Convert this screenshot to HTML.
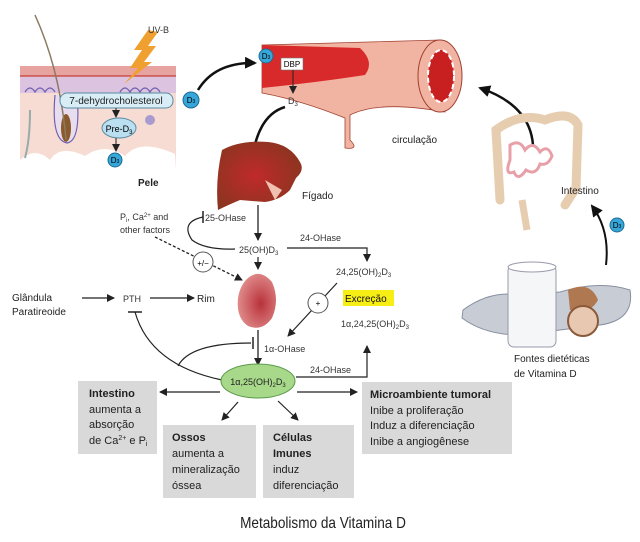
<!DOCTYPE html>
<html><head><meta charset="utf-8"><style>
html,body{margin:0;padding:0;background:#fff;}
svg{display:block;font-family:"Liberation Sans","DejaVu Sans",sans-serif;}
</style></head><body>
<svg width="640" height="542" viewBox="0 0 640 542" xmlns="http://www.w3.org/2000/svg">
<defs>
<marker id="a" markerWidth="8" markerHeight="8" refX="7" refY="4" orient="auto" markerUnits="userSpaceOnUse"><path d="M0,0 L8,4 L0,8 z" fill="#222"/></marker>
<marker id="ab" markerWidth="12" markerHeight="12" refX="10" refY="6" orient="auto" markerUnits="userSpaceOnUse"><path d="M0,0 L12,6 L0,12 z" fill="#111"/></marker>
<radialGradient id="liv" cx="0.45" cy="0.5" r="0.6"><stop offset="0" stop-color="#c02a2a"/><stop offset="1" stop-color="#8a3520"/></radialGradient>
<radialGradient id="kid" cx="0.6" cy="0.55" r="0.6"><stop offset="0" stop-color="#b8323a"/><stop offset="1" stop-color="#e08b8b"/></radialGradient>
</defs>

<!-- Skin -->
<rect x="20" y="66" width="156" height="104" fill="#f6dcd3"/>
<rect x="20" y="66" width="156" height="10" fill="#e6a3a0"/>
<line x1="20" y1="76" x2="176" y2="76" stroke="#c94c4c" stroke-width="1.5"/>
<rect x="20" y="77" width="156" height="16" fill="#dcc3df"/>
<path d="M20,160 q15,-14 30,0 q10,-16 35,-4 q20,-14 40,0 q15,-18 50,-2 L176,170 L20,170z" fill="#fff"/>
<path d="M25,92 q5,-8 10,0 q5,-8 10,0 q5,-8 10,0" fill="none" stroke="#7060b0" stroke-width="1.2"/>
<path d="M120,92 q5,-8 10,0 q5,-8 10,0 q5,-8 10,0 q5,-8 10,0" fill="none" stroke="#7060b0" stroke-width="1.2"/>
<path d="M55,95 q-4,45 12,48 q14,-2 10,-48" fill="#e8dcef" stroke="#7060b0" stroke-width="1.2"/>
<ellipse cx="66" cy="128" rx="5" ry="14" fill="#8a5a2a"/>
<path d="M35,15 Q60,70 66,140" fill="none" stroke="#8a7a60" stroke-width="1.5"/>
<path d="M30,110 q0,30 -5,48" fill="none" stroke="#9aa" stroke-width="2"/>
<circle cx="150" cy="120" r="5" fill="#a99bd0"/>
<path d="M148,30 l-14,20 8,0 -12,18 8,0 -14,16 28,-22 -8,0 12,-16 -8,0 10,-14z" fill="#f0a030"/>
<text x="148" y="33" font-size="9" fill="#333">UV-B</text>
<rect x="60" y="93" width="113" height="15" rx="7" fill="#d8edf6" stroke="#5a8aa0"/>
<text x="116" y="104" font-size="10" text-anchor="middle" fill="#222">7-dehydrocholesterol</text>
<line x1="116" y1="108" x2="116" y2="117" stroke="#222" marker-end="url(#a)"/>
<ellipse cx="119" cy="128" rx="17" ry="10" fill="#b9dff0" stroke="#5a8aa0"/>
<text x="119" y="132" font-size="9" text-anchor="middle">Pre-D<tspan font-size="6" dy="2">3</tspan></text>
<line x1="116" y1="138" x2="116" y2="151" stroke="#222" marker-end="url(#a)"/>
<circle cx="115" cy="160" r="7" fill="#37a6d8" stroke="#1c6c95"/>
<text x="115" y="163" font-size="8" text-anchor="middle">D<tspan font-size="5">3</tspan></text>
<text x="138" y="186" font-size="10" font-weight="bold" fill="#222">Pele</text>

<circle cx="191" cy="100" r="8" fill="#37a6d8" stroke="#1c6c95"/>
<text x="191" y="103" font-size="8" text-anchor="middle">D<tspan font-size="5">3</tspan></text>
<path d="M198,90 Q215,62 255,63" fill="none" stroke="#111" stroke-width="2.5" marker-end="url(#ab)"/>

<!-- Blood vessel -->
<path d="M262,45 L440,40 L445,112 Q380,100 350,115 L350,140 Q360,150 345,148 L345,118 Q300,100 262,93z" fill="#f2b4a2" stroke="#a04030" stroke-width="0.8"/>
<path d="M262,45 L360,48 Q375,62 365,75 Q320,82 262,88z" fill="#d82a2a"/>
<ellipse cx="440" cy="76" rx="22" ry="36" fill="#f2b4a2" stroke="#a04030"/>
<ellipse cx="441" cy="76" rx="13" ry="26" fill="#c82020" stroke="#fff" stroke-width="2" stroke-dasharray="5,3"/>
<circle cx="266" cy="56" r="7" fill="#37a6d8" stroke="#1c6c95"/>
<text x="266" y="59" font-size="8" text-anchor="middle">D<tspan font-size="5">3</tspan></text>
<rect x="281" y="58" width="22" height="12" fill="#fff" stroke="#777" stroke-width="0.6"/>
<text x="292" y="67" font-size="8" text-anchor="middle">DBP</text>
<line x1="293" y1="70" x2="293" y2="93" stroke="#222" marker-end="url(#a)"/>
<text x="288" y="104" font-size="9" fill="#333">D<tspan font-size="6" dy="2">3</tspan></text>
<text x="392" y="143" font-size="10" fill="#222">circulação</text>
<path d="M285,107 Q258,115 252,160" fill="none" stroke="#111" stroke-width="2.5" marker-end="url(#ab)"/>

<!-- Liver -->
<path d="M222,150 Q240,140 268,142 Q290,144 300,162 Q305,170 296,178 L290,190 Q280,200 265,202 L240,200 Q228,205 218,210 Q215,180 222,150z" fill="url(#liv)"/>
<path d="M265,180 L275,200 L282,190z" fill="#f0c0b0"/>
<text x="302" y="199" font-size="10" fill="#222">Fígado</text>

<!-- Intestine & food -->
<path d="M533,145 Q530,105 480,88" fill="none" stroke="#111" stroke-width="2.5" marker-end="url(#ab)"/>
<g fill="none" stroke="#e6cdb0" stroke-width="9" stroke-linecap="round">
<path d="M500,200 L496,130 Q520,112 545,120 Q570,110 578,125 L576,188 L565,205"/>
</g>
<path d="M522,200 L527,230" stroke="#e6cdb0" stroke-width="7"/>
<path d="M510,145 q10,-6 15,5 q8,-10 15,2 q8,-8 12,4 q-4,10 -12,8 q-4,12 -14,6 q-8,12 -12,2 q-10,4 -4,-12 z" fill="none" stroke="#e8a0a8" stroke-width="3"/>
<text x="561" y="194" font-size="10" fill="#222">Intestino</text>
<path d="M606,265 Q610,230 592,206" fill="none" stroke="#111" stroke-width="2" marker-end="url(#ab)"/>
<circle cx="617" cy="225" r="7" fill="#37a6d8" stroke="#1c6c95"/>
<text x="617" y="228" font-size="8" text-anchor="middle">D<tspan font-size="5">3</tspan></text>
<path d="M463,310 Q490,290 520,295 L560,292 Q600,280 630,290 Q635,320 600,325 L520,335 Q485,335 462,318z" fill="#c8ccd4" stroke="#8890a0"/>
<rect x="508" y="265" width="48" height="82" rx="6" fill="#f4f6f8" stroke="#99a"/>
<ellipse cx="532" cy="267" rx="24" ry="5" fill="#fff" stroke="#99a"/>
<path d="M568,290 Q590,280 598,300 Q590,315 570,310z" fill="#b07850"/>
<circle cx="583" cy="321" r="15" fill="#e8c8b0" stroke="#8a5a3a" stroke-width="2"/>
<text x="514" y="362" font-size="10" fill="#222">Fontes dietéticas</text>
<text x="514" y="377" font-size="10" fill="#222">de Vitamina D</text>

<!-- Pathway -->
<line x1="258" y1="205" x2="258" y2="240" stroke="#222" stroke-width="1.3" marker-end="url(#a)"/>
<line x1="203" y1="211" x2="203" y2="223" stroke="#222" stroke-width="1.5"/>
<text x="205" y="221" font-size="9" fill="#333">25-OHase</text>
<path d="M203,217 Q180,222 192,240 Q205,250 235,249" fill="none" stroke="#222" stroke-width="1.2"/>
<text x="239" y="253" font-size="9" fill="#333">25(OH)D<tspan font-size="6" dy="2">3</tspan></text>
<path d="M287,248 L367,248 L367,261" fill="none" stroke="#222" stroke-width="1.2" marker-end="url(#a)"/>
<text x="300" y="241" font-size="9" fill="#333">24-OHase</text>
<text x="336" y="275" font-size="9" fill="#333">24,25(OH)<tspan font-size="6" dy="2">2</tspan><tspan dy="-2">D</tspan><tspan font-size="6" dy="2">3</tspan></text>
<line x1="258" y1="257" x2="258" y2="269" stroke="#222" stroke-width="1.2" marker-end="url(#a)"/>
<text x="120" y="220" font-size="9" fill="#333">P<tspan font-size="6" dy="2">i</tspan><tspan dy="-2">, Ca</tspan><tspan font-size="6" dy="-3">2+</tspan><tspan dy="3"> and</tspan></text>
<text x="120" y="233" font-size="9" fill="#333">other factors</text>
<line x1="155" y1="237" x2="242" y2="280" stroke="#222" stroke-width="1.3" stroke-dasharray="3,2" marker-end="url(#a)"/>
<circle cx="203" cy="262" r="10" fill="#fff" stroke="#555"/>
<text x="203" y="266" font-size="8" text-anchor="middle">+/−</text>
<path d="M248,278 Q260,268 272,282 Q280,300 272,318 Q262,332 248,326 Q236,318 238,298 Q240,285 248,278z" fill="url(#kid)"/>
<text x="12" y="301" font-size="10" fill="#222">Glândula</text>
<text x="12" y="315" font-size="10" fill="#222">Paratireoide</text>
<line x1="82" y1="298" x2="114" y2="298" stroke="#222" stroke-width="1.2" marker-end="url(#a)"/>
<text x="123" y="302" font-size="9" fill="#333">PTH</text>
<line x1="150" y1="298" x2="194" y2="298" stroke="#222" stroke-width="1.2" marker-end="url(#a)"/>
<text x="197" y="302" font-size="10" fill="#222">Rim</text>
<line x1="128" y1="312" x2="142" y2="312" stroke="#222" stroke-width="1.5"/>
<path d="M135,312 Q150,365 222,380" fill="none" stroke="#222" stroke-width="1.2"/>
<path d="M178,366 Q190,343 251,343" fill="none" stroke="#222" stroke-width="1.2"/>
<line x1="253" y1="337" x2="253" y2="349" stroke="#222" stroke-width="1.5"/>
<line x1="258" y1="330" x2="258" y2="365" stroke="#222" stroke-width="1.3" marker-end="url(#a)"/>
<text x="264" y="352" font-size="9" fill="#333">1α-OHase</text>
<line x1="337" y1="283" x2="288" y2="336" stroke="#222" stroke-width="1.2" marker-end="url(#a)"/>
<circle cx="318" cy="303" r="10" fill="#fff" stroke="#555"/>
<text x="318" y="306" font-size="8" text-anchor="middle">+</text>
<rect x="343" y="290" width="51" height="16" fill="#f7ee16"/>
<text x="345" y="302" font-size="10" fill="#111">Excreção</text>
<text x="341" y="327" font-size="9" fill="#333">1α,24,25(OH)<tspan font-size="6" dy="2">2</tspan><tspan dy="-2">D</tspan><tspan font-size="6" dy="2">3</tspan></text>
<path d="M296,377 L367,377 L367,346" fill="none" stroke="#222" stroke-width="1.2" marker-end="url(#a)"/>
<text x="310" y="373" font-size="9" fill="#333">24-OHase</text>
<ellipse cx="258" cy="381" rx="37" ry="17" fill="#a8d88a" stroke="#5a9a4a"/>
<text x="258" y="385" font-size="9" text-anchor="middle" fill="#222">1α,25(OH)<tspan font-size="6" dy="2">2</tspan><tspan dy="-2">D</tspan><tspan font-size="6" dy="2">3</tspan></text>
<line x1="220" y1="392" x2="160" y2="392" stroke="#222" stroke-width="1.2" marker-end="url(#a)"/>
<line x1="297" y1="392" x2="357" y2="392" stroke="#222" stroke-width="1.2" marker-end="url(#a)"/>
<line x1="238" y1="402" x2="222" y2="420" stroke="#222" stroke-width="1.2" marker-end="url(#a)"/>
<line x1="278" y1="401" x2="298" y2="420" stroke="#222" stroke-width="1.2" marker-end="url(#a)"/>

<!-- Boxes -->
<g font-size="11" fill="#222">
<rect x="78" y="381" width="79" height="73" fill="#d9d9d9"/>
<text x="89" y="397" font-weight="bold">Intestino</text>
<text x="89" y="413">aumenta a</text>
<text x="89" y="428">absorção</text>
<text x="89" y="444">de Ca<tspan font-size="7" dy="-4">2+</tspan><tspan dy="4"> e P</tspan><tspan font-size="7" dy="2">i</tspan></text>
<rect x="163" y="425" width="93" height="73" fill="#d9d9d9"/>
<text x="172" y="441" font-weight="bold">Ossos</text>
<text x="172" y="457">aumenta a</text>
<text x="172" y="473">mineralização</text>
<text x="172" y="489">óssea</text>
<rect x="263" y="425" width="91" height="73" fill="#d9d9d9"/>
<text x="273" y="441" font-weight="bold">Células</text>
<text x="273" y="457" font-weight="bold">Imunes</text>
<text x="273" y="473">induz</text>
<text x="273" y="489">diferenciação</text>
<rect x="362" y="382" width="150" height="72" fill="#d9d9d9"/>
<text x="370" y="398" font-weight="bold">Microambiente tumoral</text>
<text x="370" y="414">Inibe a proliferação</text>
<text x="370" y="429">Induz a diferenciação</text>
<text x="370" y="445">Inibe a angiogênese</text>
</g>
<text x="323" y="528" font-size="16" text-anchor="middle" fill="#222" transform="translate(323,0) scale(0.85,1) translate(-323,0)">Metabolismo da Vitamina D</text>
</svg>
</body></html>
